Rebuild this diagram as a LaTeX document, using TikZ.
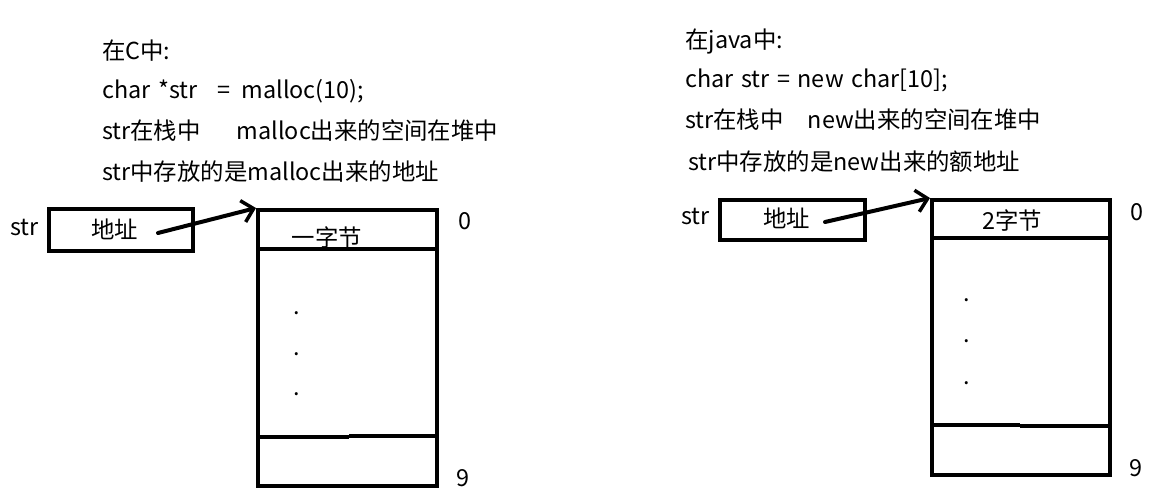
\documentclass[tikz,border=0pt]{standalone}
\usepackage{fontspec}
\setmainfont[WordSpace=1.45]{Noto Sans CJK SC}
\usetikzlibrary{arrows.meta}
\begin{document}
\begin{tikzpicture}[x=1pt,y=-1pt,
  txt/.style={anchor=west,inner sep=0pt,font=\fontsize{23.4}{27}\selectfont},
  box/.style={draw,line width=4pt,inner sep=0pt},
  cell/.style={line width=4pt},
  ptr/.style={line width=4pt,line cap=round,-{Straight Barb[length=11pt,width=22pt,line width=3.5pt]}},
  dot/.style={inner sep=0pt,font=\fontsize{23.4}{27}\selectfont}]
\useasboundingbox (0,0) rectangle (1169,498);
% ---------- left: C ----------
\node[txt] (l1) at (102,51) {在C中:};
\node[txt] (l2) at (102,91) {char *str\hspace{12pt} = \hspace{4pt}malloc(10);};
\node[txt] (l3) at (102,131) {str在栈中\hspace{36pt}malloc出来的空间在堆中};
\node[txt] (l4) at (102,172) {str中存放的是malloc出来的地址};
\node[txt] (sL) at (10,228) {str};
\node[box,minimum width=144pt,minimum height=42pt] (aL) at (121,230) {};
\node[txt] (aLt) at (91,229) {地址};
\coordinate (aLs) at (158,233);
\node[box,minimum width=179pt,minimum height=276pt] (hL) at (347.5,348) {};
\draw[cell] (hL.west |- 0,249) -- (hL.east |- 0,249);
\draw[cell] (hL.west |- 0,437) -- (349,437);
\draw[cell] (349,436) -- (hL.east |- 0,436);
\node[dot] (b0L) at (327,238) {一字节};
\node[dot] (d1L) at (297,313) {.};
\node[dot] (d2L) at (297,354) {.};
\node[dot] (d3L) at (297,394) {.};
\node[txt] (z0L) at (458,221) {0};
\node[txt] (z9L) at (456,478) {9};
\draw[ptr] (aLs) -- (hL.north west);
% ---------- right: java ----------
\node[txt] (r1) at (685,42) {在java中:};
\node[txt] (r2) at (685,80) {char str = new char[10];};
\node[txt] (r3) at (685,120) {str在栈中\hspace{24pt}new出来的空间在堆中};
\node[txt] (r4) at (688,162) {str中存放的是new出来的额地址};
\node[txt] (sR) at (681,217) {str};
\node[box,minimum width=145pt,minimum height=40pt] (aR) at (792.5,220) {};
\node[txt] (aRt) at (763,218) {地址};
\coordinate (aRs) at (825,222);
\node[box,minimum width=178pt,minimum height=275pt] (hR) at (1021,337.5) {};
\draw[cell] (hR.west |- 0,238) -- (hR.east |- 0,238);
\draw[cell] (hR.west |- 0,425) -- (1020,425);
\draw[cell] (1020,426) -- (hR.east |- 0,426);
\node[dot] (b0R) at (1012,221) {2字节};
\node[dot] (d1R) at (967,300) {.};
\node[dot] (d2R) at (967,341) {.};
\node[dot] (d3R) at (967,383) {.};
\node[txt] (z0R) at (1130,212) {0};
\node[txt] (z9R) at (1129,468) {9};
\draw[ptr] (aRs) -- (hR.north west);
\end{tikzpicture}
\end{document}
